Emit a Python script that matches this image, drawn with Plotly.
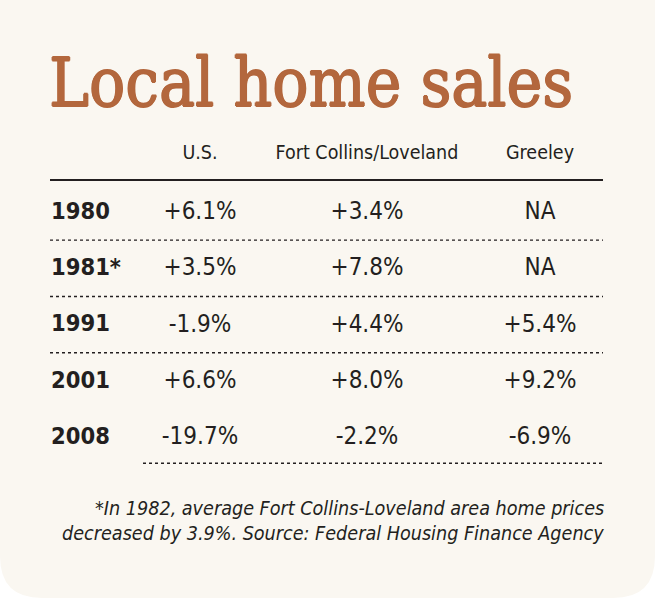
import plotly.graph_objects as go

# ---- data ----
title = "Local home sales"
columns = ["U.S.", "Fort Collins/Loveland", "Greeley"]
years = ["1980", "1981*", "1991", "2001", "2008"]
us = ["+6.1%", "+3.5%", "-1.9%", "+6.6%", "-19.7%"]
fort_collins = ["+3.4%", "+7.8%", "+4.4%", "+8.0%", "-2.2%"]
greeley = ["NA", "NA", "+5.4%", "+9.2%", "-6.9%"]
footnote = ["*In 1982, average Fort Collins-Loveland area home prices",
            "decreased by 3.9%. Source: Federal Housing Finance Agency"]

# ---- layout constants (pixel space) ----
W, H = 655, 598
BG = "#faf7f1"
TITLE_C = "#b3673d"
INK = "#231f20"
COND = "DejaVu Sans Condensed, sans-serif"
col_x = [200, 367, 540]
year_x = 51
row_y0, row_step = 213, 56.3
head_y = 154
rows_y = [row_y0 + i * row_step for i in range(len(years))]

fig = go.Figure()

# header
fig.add_trace(go.Scatter(x=col_x, y=[head_y] * 3, mode="text", text=columns,
                         textfont=dict(family=COND, size=19.5, color=INK),
                         textposition="middle center", hoverinfo="skip"))
# years
fig.add_trace(go.Scatter(x=[year_x] * len(years), y=rows_y, mode="text", text=years,
                         textfont=dict(family=COND, size=23.5, color=INK, weight="bold"),
                         textposition="middle right", hoverinfo="skip"))
# values
for cx, vals in zip(col_x, [us, fort_collins, greeley]):
    fig.add_trace(go.Scatter(x=[cx] * len(vals), y=rows_y, mode="text", text=vals,
                             textfont=dict(family=COND, size=24, color=INK),
                             textposition="middle center", hoverinfo="skip"))

# solid rule under header
fig.add_trace(go.Scatter(x=[50, 603], y=[180, 180], mode="lines",
                         line=dict(color=INK, width=2.2), hoverinfo="skip"))
# dotted separators
for i in range(3):
    yy = (rows_y[i] + rows_y[i + 1]) / 2 - 1
    fig.add_trace(go.Scatter(x=[50, 603], y=[yy, yy], mode="lines",
                             line=dict(color=INK, width=1.4, dash="dot"), hoverinfo="skip"))
yy = rows_y[-1] + 25
fig.add_trace(go.Scatter(x=[143, 603], y=[yy, yy], mode="lines",
                         line=dict(color=INK, width=1.4, dash="dot"), hoverinfo="skip"))

# background card with rounded bottom corners
r = 42
path = (f"M 0 0 L {W} 0 L {W} {H - r} Q {W} {H} {W - r} {H} "
        f"L {r} {H} Q 0 {H} 0 {H - r} Z")

thick = ", ".join(f"{dx}px {dy}px 0 {TITLE_C}" for dx, dy in
                  [(0.8, 0), (-0.8, 0), (0, 0.8), (0, -0.8)])

fig.update_layout(
    width=W, height=H, margin=dict(l=0, r=0, t=0, b=0),
    paper_bgcolor="white", plot_bgcolor="rgba(0,0,0,0)", showlegend=False,
    xaxis=dict(range=[0, W], visible=False, fixedrange=True),
    yaxis=dict(range=[H, 0], visible=False, fixedrange=True),
    shapes=[dict(type="path", path=path, xref="x", yref="y",
                 fillcolor=BG, line=dict(width=0), layer="below")],
    annotations=[
        dict(x=47, y=83, xref="x", yref="y", text=title, showarrow=False,
             xanchor="left", yanchor="middle",
             font=dict(family="DejaVu Serif Condensed", size=67, color=TITLE_C,
                       shadow=thick)),
        dict(x=606, y=508, xref="x", yref="y", text="<i>" + footnote[0] + "</i>",
             showarrow=False, xanchor="right", yanchor="middle",
             font=dict(family=COND, size=19.6, color=INK)),
        dict(x=606, y=533, xref="x", yref="y", text="<i>" + footnote[1] + "</i>",
             showarrow=False, xanchor="right", yanchor="middle",
             font=dict(family=COND, size=19.6, color=INK)),
    ],
)

fig.write_html("out.html", config={"displayModeBar": False},
               post_script="document.body.style.margin='0px';")
